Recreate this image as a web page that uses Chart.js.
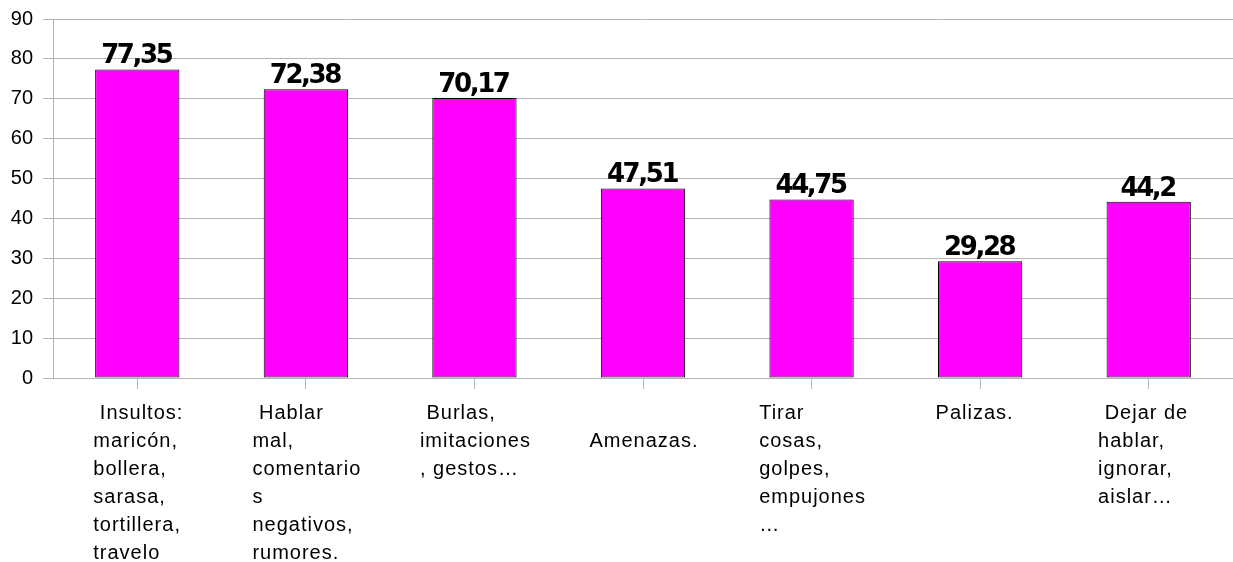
<!DOCTYPE html>
<html>
<head>
<meta charset="utf-8">
<script src="https://cdn.jsdelivr.net/npm/chart.js@4/dist/chart.umd.min.js"></script>
<style>
  html, body { margin: 0; padding: 0; background: #ffffff; }
  #wrap { width: 1233px; height: 562px; position: relative; }
</style>
</head>
<body>
<div id="wrap"><canvas id="chart"></canvas></div>
<script>
// categories, one line per entry, as wrapped in the original
const categoryLines = [
  [" Insultos:", "maricón,", "bollera,", "sarasa,", "tortillera,", "travelo"],
  [" Hablar", "mal,", "comentario", "s", "negativos,", "rumores."],
  [" Burlas,", "imitaciones", ", gestos…"],
  ["", "Amenazas."],
  ["Tirar", "cosas,", "golpes,", "empujones", "…"],
  ["Palizas.  "],
  [" Dejar de  ", "hablar,", "ignorar,", "aislar…"]
];
const values = [77.35, 72.38, 70.17, 47.51, 44.75, 29.28, 44.2];
const yMin = 0;
const yMax = 90;
const yStep = 10;

const GRID = "#b3b3b3";
const LABEL_FONT = "20px 'Liberation Sans', Arial, sans-serif";
const VALUE_FONT = "bold 26px 'DejaVu Sans', sans-serif";

function formatValue(v) {
  return String(v).replace(".", ",");
}

// value labels above each bar
const valueLabels = {
  id: "valueLabels",
  afterDatasetsDraw(chart) {
    const ctx = chart.ctx;
    const meta = chart.getDatasetMeta(0);
    ctx.save();
    ctx.font = VALUE_FONT;
    ctx.letterSpacing = "-2.4px";
    ctx.fillStyle = "#000000";
    ctx.textAlign = "center";
    ctx.textBaseline = "alphabetic";
    meta.data.forEach((bar, i) => {
      ctx.fillText(formatValue(values[i]), bar.x - 1, bar.y - 6);
    });
    ctx.restore();
  }
};

// wrapped category labels: left aligned lines, block centred under the tick
const categoryLabels = {
  id: "categoryLabels",
  afterDraw(chart) {
    const ctx = chart.ctx;
    const xScale = chart.scales.x;
    ctx.save();
    ctx.font = LABEL_FONT;
    ctx.letterSpacing = "1px";
    ctx.fillStyle = "#000000";
    ctx.textAlign = "left";
    ctx.textBaseline = "alphabetic";
    categoryLines.forEach((lines, i) => {
      const cx = xScale.getPixelForTick(i);
      const w = Math.max(...lines.map((l) => ctx.measureText(l).width));
      const left = cx - w / 2 + 1;
      lines.forEach((line, j) => {
        ctx.fillText(line, left, 419 + j * 28);
      });
    });
    ctx.restore();
  }
};

const ctx = document.getElementById("chart").getContext("2d");
new Chart(ctx, {
  type: "bar",
  data: {
    labels: categoryLines,
    datasets: [{
      data: values,
      backgroundColor: "#ff00ff",
      borderColor: "#000000",
      borderWidth: 1,
      borderSkipped: false,
      barPercentage: 0.5,
      categoryPercentage: 1.0
    }]
  },
  options: {
    responsive: true,
    maintainAspectRatio: false,
    animation: false,
    layout: {
      padding: { top: 19, right: 0, left: 0, bottom: 0 }
    },
    plugins: {
      legend: { display: false },
      tooltip: { enabled: false }
    },
    scales: {
      x: {
        ticks: { display: false },
        grid: {
          display: true,
          drawOnChartArea: false,
          drawTicks: true,
          tickLength: 11,
          offset: false,
          color: GRID
        },
        border: { color: GRID },
        afterFit(scale) {
          scale.height = 184;
          scale.paddingLeft = 0;
          scale.paddingRight = 0;
        }
      },
      y: {
        min: yMin,
        max: yMax,
        ticks: {
          stepSize: yStep,
          padding: 10,
          color: "#000000",
          font: { family: "'Liberation Sans', Arial, sans-serif", size: 20 }
        },
        grid: {
          color: GRID,
          tickLength: 10
        },
        border: { color: GRID },
        afterFit(scale) {
          scale.width = 53;
          scale.paddingTop = 0;
          scale.paddingBottom = 0;
        }
      }
    }
  },
  plugins: [valueLabels, categoryLabels]
});
</script>
</body>
</html>
